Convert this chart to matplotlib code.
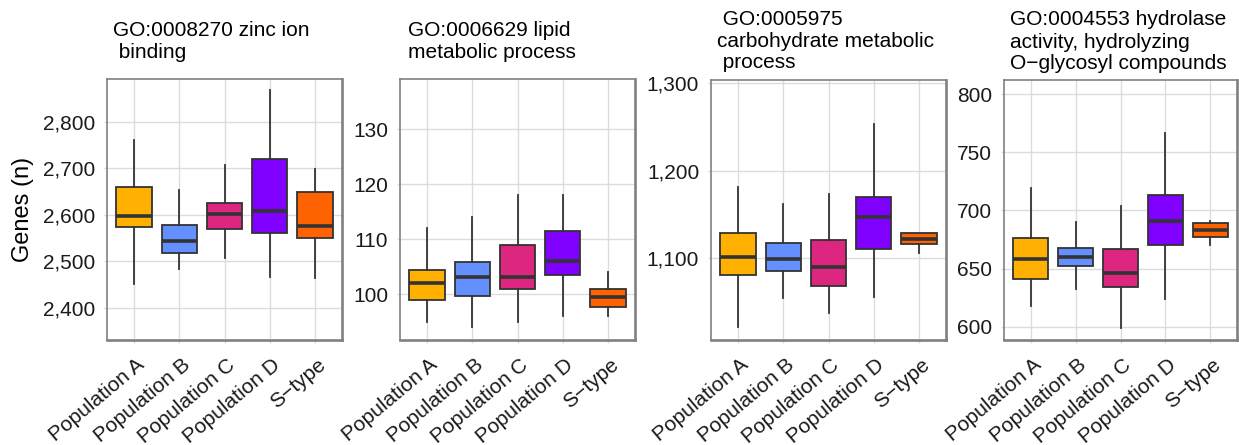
import matplotlib
matplotlib.use("Agg")
import matplotlib.pyplot as plt
from matplotlib.ticker import FuncFormatter, FixedLocator
from matplotlib.transforms import ScaledTranslation

plt.rcParams['font.family'] = ['Liberation Sans', 'DejaVu Sans']

categories = ["Population A", "Population B", "Population C", "Population D", "S\u2212type"]
colors = ["#FFB000", "#648FFF", "#DC267F", "#7F00FF", "#FF6200"]

# GO:0008270 zinc ion binding
zinc_low = [2451, 2483, 2506, 2466, 2463]
zinc_q1 = [2574, 2518, 2569, 2561, 2549]
zinc_med = [2598, 2543, 2602, 2608, 2576]
zinc_q3 = [2659, 2577, 2625, 2719, 2649]
zinc_high = [2761, 2652, 2707, 2868, 2698]

# GO:0006629 lipid metabolic process
lipid_low = [95, 94, 95, 96, 96]
lipid_q1 = [98.9, 99.75, 101, 103.45, 97.7]
lipid_med = [102, 103.1, 103.1, 106.05, 99.6]
lipid_q3 = [104.5, 105.9, 108.9, 111.5, 101]
lipid_high = [112, 114, 118, 118, 104]

# GO:0005975 carbohydrate metabolic process
carb_low = [1021, 1055, 1037, 1056, 1106]
carb_q1 = [1081, 1085.5, 1068, 1111, 1116]
carb_med = [1101, 1099, 1090, 1147, 1122]
carb_q3 = [1129, 1117, 1121, 1170, 1129]
carb_high = [1181, 1162, 1173, 1253, 1129]

# GO:0004553 hydrolase activity, hydrolyzing O-glycosyl compounds
hydro_low = [618, 632, 599, 624, 670]
hydro_q1 = [641, 652, 634, 670, 677.5]
hydro_med = [658.5, 660, 646.5, 691, 683]
hydro_q3 = [676, 667.5, 667, 713, 689.5]
hydro_high = [719, 690, 704, 767, 691]

zinc_ticks = [2400, 2500, 2600, 2700, 2800]
lipid_ticks = [100, 110, 120, 130]
carb_ticks = [1100, 1200, 1300]
hydro_ticks = [600, 650, 700, 750, 800]

W, H = 1239, 445
fig = plt.figure(figsize=(W / 100, H / 100), dpi=100)

panels = [
    dict(box=(107, 79, 342, 340), ylim=(2330.7, 2891.6), ticks=zinc_ticks,
         data=(zinc_low, zinc_q1, zinc_med, zinc_q3, zinc_high),
         title=[(113, 36, "GO:0008270 zinc ion"), (113, 58, " binding")]),
    dict(box=(400, 79, 635, 340), ylim=(91.7, 139.1), ticks=lipid_ticks,
         data=(lipid_low, lipid_q1, lipid_med, lipid_q3, lipid_high),
         title=[(408, 36, "GO:0006629 lipid"), (408, 58, "metabolic process")]),
    dict(box=(711, 80, 946, 340), ylim=(1006.6, 1303.8), ticks=carb_ticks,
         data=(carb_low, carb_q1, carb_med, carb_q3, carb_high),
         title=[(717, 25, " GO:0005975"), (717, 47, "carbohydrate metabolic"), (717, 68.5, " process")]),
    dict(box=(1004, 80, 1237, 340), ylim=(588.5, 812.3), ticks=hydro_ticks,
         data=(hydro_low, hydro_q1, hydro_med, hydro_q3, hydro_high),
         title=[(1010, 25, "GO:0004553 hydrolase"), (1010, 47.5, "activity, hydrolyzing"),
                (1010, 69, "O\u2212glycosyl compounds")]),
]

edge = "#333333"
gridc = "#DCDCDC"
spinec = "#808080"

for p in panels:
    x0, y0, x1, y1 = p["box"]
    ax = fig.add_axes([x0 / W, 1 - y1 / H, (x1 - x0) / W, (y1 - y0) / H])
    lo, q1, med, q3, hi = p["data"]
    stats = [dict(whislo=a, q1=b, med=c, q3=d, whishi=e, fliers=[], label=lab)
             for a, b, c, d, e, lab in zip(lo, q1, med, q3, hi, categories)]
    pos = list(range(1, len(categories) + 1))
    bp = ax.bxp(stats, positions=pos, widths=0.78,
                patch_artist=True, showfliers=False, showcaps=False,
                boxprops=dict(edgecolor=edge, linewidth=1.3),
                whiskerprops=dict(color=edge, linewidth=1.3),
                medianprops=dict(color=edge, linewidth=2.6, solid_capstyle='butt'))
    for patch, col in zip(bp["boxes"], colors):
        patch.set_facecolor(col)
    ax.set_xlim(0.4, len(categories) + 0.6)
    ax.set_ylim(*p["ylim"])
    ax.yaxis.set_major_locator(FixedLocator(p["ticks"]))
    ax.yaxis.set_major_formatter(FuncFormatter(lambda v, pos_: f"{v:,.0f}"))
    ax.set_axisbelow(True)
    ax.grid(True, color=gridc, linewidth=1.0)
    ax.tick_params(axis='both', length=2.5, width=1.0, color=gridc, labelsize=15,
                   labelcolor="#1A1A1A")
    ax.tick_params(axis='y', pad=6)
    ax.set_xticks(pos)
    ax.set_xticklabels([])
    off = ScaledTranslation(2 / 100, -15 / 100, fig.dpi_scale_trans)
    for xpos, lab in zip(pos, categories):
        ax.text(xpos, 0, lab, transform=ax.get_xaxis_transform() + off,
                rotation=40, ha='right', va='top', rotation_mode='anchor',
                fontsize=15, color="#1A1A1A", clip_on=False)
    for side in ['left', 'top']:
        ax.spines[side].set_color(spinec)
        ax.spines[side].set_linewidth(1.2)
    for side in ['right', 'bottom']:
        ax.spines[side].set_color(spinec)
        ax.spines[side].set_linewidth(1.9)
    for tx, ty, s in p["title"]:
        fig.text(tx / W, 1 - ty / H, s, fontsize=15, ha='left', va='baseline', color="#000000")

fig.text(23 / W, 1 - 209.5 / H, "Genes (n)", rotation=90, fontsize=17, ha='center', va='center')

fig.savefig("out.png", dpi=100)
